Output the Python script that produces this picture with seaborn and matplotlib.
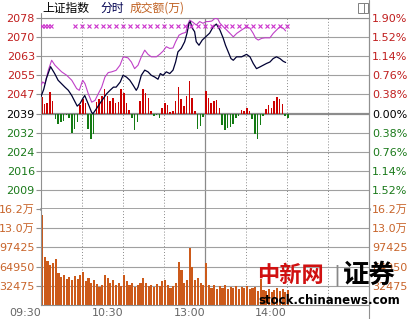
import matplotlib
matplotlib.use("Agg")
import matplotlib.pyplot as plt
import seaborn as sns
from matplotlib.lines import Line2D
from matplotlib.patches import Rectangle

# ---------------- data ----------------
prev_close = 2039.4
price_step = 7.75
price_labels_left = ['2078', '2070', '2063', '2055', '2047', '2039', '2032', '2024', '2016', '2009']
price_labels_right = ['1.90%', '1.52%', '1.14%', '0.76%', '0.38%', '0.00%', '0.38%', '0.76%', '1.14%', '1.52%']
price_steps = [5, 4, 3, 2, 1, 0, -1, -2, -3, -4]
vol_tick_values = [162000, 129900, 97425, 64950, 32475]
vol_tick_labels = ['16.2万', '13.0万', '97425', '64950', '32475']
time_tick_minutes = [0, 60, 120, 180]
time_tick_labels = ['09:30', '10:30', '13:00', '14:00']

index_minutes = [0, 2, 4, 7, 10, 12.5, 15, 17.5, 20, 22.5, 25, 26.5, 28.5, 30.5, 32, 33.5, 35, 37, 38,
                 40.5, 42.5, 45.5, 48, 50.5, 53, 55, 58, 60, 62.5, 65, 67.5, 69.7, 71, 73.4, 75.9, 78.3,
                 80.7, 83.2, 85.6, 87.3, 89.3, 91.7, 94.2, 96.6, 98.5, 100.2, 102.6, 105.1, 106.8, 108.3,
                 109.2, 110.7, 112.4, 113.6, 115.6, 118, 120.5, 123.4, 125.9, 128.3, 130.9, 133.3, 135,
                 137, 139, 140.7, 143.1, 146.8, 150.4, 152.9, 155.3, 157.7, 160.2, 162.6, 165, 167.5,
                 169.9, 172.3, 174.8, 177.2, 179]
index_values = [2046.3, 2049.2, 2053.7, 2058.4, 2055.6, 2052.9, 2051.5, 2050.1, 2048.8, 2046.7, 2044.0,
                2042.4, 2043.4, 2045.4, 2046.7, 2044.7, 2042.7, 2039.9, 2039.3, 2041.3, 2043.0, 2045.4,
                2047.4, 2048.8, 2050.1, 2050.1, 2052.2, 2054.9, 2054.2, 2052.9, 2050.8, 2048.8, 2050.1,
                2054.9, 2057.0, 2056.3, 2054.9, 2054.2, 2053.3, 2055.6, 2054.9, 2056.3, 2055.6, 2057.0,
                2060.3, 2064.4, 2065.8, 2068.5, 2071.9, 2076.0, 2076.7, 2074.0, 2072.6, 2068.5, 2067.1,
                2069.2, 2070.5, 2072.0, 2074.5, 2075.7, 2073.3, 2070.0, 2067.1, 2064.4, 2061.7, 2061.0,
                2062.4, 2062.4, 2063.4, 2062.4, 2059.7, 2057.6, 2058.3, 2059.0, 2059.7, 2060.3, 2061.7,
                2062.4, 2061.7, 2060.6, 2060.1]

lead_minutes = [0, 1.2, 2.9, 5.3, 7.8, 10.2, 12.7, 15.1, 18.8, 22.5, 26.1, 28, 30.5, 32.2, 34.6, 37.1,
                39.5, 41.9, 44.4, 46.8, 49.2, 51.7, 54.9, 57.8, 60.2, 63.6, 66.1, 68.5, 71, 73.4, 75.9,
                78.3, 80.7, 84.4, 86.8, 89.3, 91.7, 94.2, 96.6, 98.5, 101, 103.4, 105.9, 107.5, 108.8,
                111.2, 113.6, 116.1, 118.5, 120.9, 122.4, 124.9, 127.3, 129.3, 131, 133.4, 135.8, 138.3,
                140.7, 143.2, 146.8, 150.5, 152.9, 155.3, 157.1, 159, 161.5, 163.9, 167.5, 169.9, 172.4,
                174.8, 177.3, 179]
lead_values = [2050.8, 2052.2, 2051.5, 2056.9, 2061.0, 2059.0, 2057.6, 2056.3, 2054.9, 2052.9, 2049.5,
               2048.8, 2052.9, 2051.5, 2047.4, 2044.0, 2044.7, 2047.4, 2050.1, 2054.2, 2056.0, 2056.3,
               2056.9, 2059.0, 2062.4, 2062.0, 2060.3, 2057.6, 2059.0, 2062.4, 2065.1, 2063.4, 2062.4,
               2062.4, 2063.4, 2064.7, 2066.5, 2065.8, 2066.0, 2068.5, 2071.2, 2071.9, 2072.3, 2075.6,
               2077.3, 2076.4, 2075.3, 2076.7, 2076.0, 2076.7, 2076.7, 2076.9, 2078.0, 2077.8, 2076.0,
               2074.6, 2073.3, 2071.9, 2070.5, 2071.9, 2073.3, 2074.6, 2074.0, 2071.9, 2069.9, 2069.2,
               2069.9, 2070.1, 2070.1, 2071.9, 2073.3, 2074.6, 2074.0, 2072.9]

bar_minutes = [0, 2, 4, 6, 8, 10, 12, 14, 16, 18, 20, 22, 24, 26, 28, 30, 32, 34, 36, 38, 40, 42, 44,
               46, 48, 50, 52, 54, 56, 58, 60, 62, 64, 66, 68, 70, 72, 74, 76, 78, 80, 82, 84, 86, 88,
               90, 92, 94, 96, 98, 100, 102, 104, 106, 108, 110, 112, 114, 116, 118, 120, 122, 124, 126,
               128, 130, 132, 134, 136, 138, 140, 142, 144, 146, 148, 150, 152, 154, 156, 158, 160, 162,
               164, 166, 168, 170, 172, 174, 176, 178, 180]
strength_values = [6.5, 3.7, 4.1, 8.6, 4.9, -2.4, -4.1, -3.3, -2.9, -0.8, -2.0, -7.8, -6.1, -3.3, 3.3,
                   5.7, 4.1, -6.1, -10.2, -8.2, 4.5, 5.7, 6.9, 9.8, 7.3, 4.9, 6.1, 4.1, 4.5, 9.8, 8.2,
                   4.1, 1.6, -2.0, -6.5, -3.3, 4.9, 9.8, 8.2, 6.1, 1.2, -1.2, -0.8, -2.0, 2.4, 4.1, 3.3,
                   0.8, 1.2, 4.9, 10.6, 5.7, 2.9, 7.3, 13.1, 6.1, 1.2, -6.1, -4.9, -1.6, 9.0, 6.1, 4.1,
                   4.9, 5.3, 2.4, -4.5, -6.5, -5.7, -5.3, -4.1, -2.0, -1.2, 1.6, 1.2, 2.4, 1.2, -2.4,
                   -8.2, -10.2, -4.5, -1.2, 2.0, 3.3, 2.4, 4.9, 6.5, 5.7, 3.7, -1.2, -2.0]
volume_values = [152000, 81000, 74000, 68000, 71000, 77000, 54000, 47000, 50000, 44000, 47000, 42000,
                 49000, 44000, 51000, 56000, 41000, 45000, 37000, 42000, 36000, 30000, 34000, 51000,
                 46000, 37000, 42000, 34000, 37000, 32000, 51000, 40000, 34000, 37000, 30000, 34000,
                 37000, 46000, 37000, 32000, 34000, 30000, 36000, 32000, 40000, 42000, 34000, 29000,
                 32000, 37000, 73000, 59000, 37000, 42000, 96000, 64000, 42000, 46000, 37000, 34000,
                 71000, 34000, 29000, 34000, 27000, 32000, 29000, 34000, 27000, 30000, 29000, 32000,
                 27000, 30000, 29000, 32000, 27000, 29000, 30000, 24000, 44000, 25000, 24000, 27000,
                 22000, 25000, 29000, 24000, 27000, 22000, 25000]
marker_minutes = [1, 3, 5, 7, 25, 30, 35, 40, 45, 50, 55, 60, 65, 70, 75, 80, 85, 90, 95, 100, 105,
                  110, 115, 120, 125, 130, 135, 140, 145, 150, 155, 160, 165, 170, 175, 180]
marker_level = 2074.9

# ---------------- style ----------------
sns.set_style("white")
plt.rcParams['font.family'] = ['DejaVu Sans', 'Noto Sans CJK SC']
plt.rcParams['axes.unicode_minus'] = False

W, H = 411, 319
RED, GREEN, BLACK, ORANGE = '#c01e1e', '#1b7a1b', '#000000', '#c8642a'
GRID = '#a0a0a0'

fig = plt.figure(figsize=(W / 100, H / 100), dpi=100)
fig.patch.set_facecolor('white')


def fx(px):
    return px / W


def fy(py):
    return 1 - py / H


ax_p = fig.add_axes([fx(41), fy(209), 328 / W, 191 / H])
ax_v = fig.add_axes([fx(41), fy(305), 328 / W, 96 / H])

for ax in (ax_p, ax_v):
    ax.set_xlim(0, 240)
    ax.set_facecolor('white')
    ax.set_xticks([])
    for s in ax.spines.values():
        s.set_color('#909090')
        s.set_linewidth(0.8)
    # vertical time grid
    for m in [30, 60, 90, 150, 180, 210]:
        ax.axvline(m, color='#8a8a8a', lw=0.7, ls=(0, (1, 2)), zorder=1)
    ax.axvline(120, color='#8a8a8a', lw=0.9, zorder=1)

# ---- price panel ----
lo, hi = prev_close - 5 * price_step, prev_close + 5 * price_step
ax_p.set_ylim(lo, hi)
levels = [prev_close + k * price_step for k in price_steps]
for k, lv in zip(price_steps, levels):
    if k == 0:
        ax_p.axhline(lv, color='#8c8c8c', lw=1.6, zorder=1)
    else:
        ax_p.axhline(lv, color=GRID, lw=0.8, zorder=1)
ax_p.spines['bottom'].set_linewidth(1.8)
ax_p.spines['bottom'].set_color('#888888')

label_colors = [RED if k > 0 else (BLACK if k == 0 else GREEN) for k in price_steps]

ax_p.set_yticks(levels)
ax_p.set_yticklabels(price_labels_left)
ax_p.tick_params(axis='y', length=3.5, width=0.8, color='#909090', pad=1, labelsize=8)
for t, c in zip(ax_p.get_yticklabels(), label_colors):
    t.set_color(c)

axr = ax_p.twinx()
axr.set_ylim(lo, hi)
axr.set_yticks(levels)
axr.set_yticklabels(price_labels_right)
axr.tick_params(axis='y', length=0, pad=2, labelsize=8)
for t, c in zip(axr.get_yticklabels(), label_colors):
    t.set_color(c)
for s in axr.spines.values():
    s.set_visible(False)

# strength bars
pos_x = [m for m, v in zip(bar_minutes, strength_values) if v > 0]
pos_v = [v for v in strength_values if v > 0]
neg_x = [m for m, v in zip(bar_minutes, strength_values) if v < 0]
neg_v = [v for v in strength_values if v < 0]
ax_p.bar(pos_x, pos_v, bottom=prev_close, width=1.1, color='#cc0000', linewidth=0, zorder=2, align='edge')
ax_p.bar(neg_x, neg_v, bottom=prev_close, width=1.1, color='#137a13', linewidth=0, zorder=2, align='edge')

# lines
sns.lineplot(x=lead_minutes, y=lead_values, ax=ax_p, color='#c040c8', linewidth=0.8,
             estimator=None, sort=False, zorder=3)
sns.lineplot(x=index_minutes, y=index_values, ax=ax_p, color='#000033', linewidth=0.9,
             estimator=None, sort=False, zorder=4)
ax_p.plot(marker_minutes, [marker_level] * len(marker_minutes), ls='none', marker='x',
          ms=3.2, mew=0.8, color='#cc33cc', zorder=4)
ax_p.set_xlim(0, 240)
ax_p.set_ylim(lo, hi)
ax_p.set_xlabel('')
ax_p.set_ylabel('')

# ---- volume panel ----
ax_v.set_ylim(0, vol_tick_values[0])
for v in vol_tick_values[1:]:
    ax_v.axhline(v, color=GRID, lw=0.8, zorder=1)
ax_v.spines['top'].set_visible(False)
ax_v.bar(bar_minutes, volume_values, width=1.55, color='#cc5a1a', linewidth=0, zorder=2, align='edge')
ax_v.set_yticks(vol_tick_values)
ax_v.set_yticklabels(vol_tick_labels)
ax_v.tick_params(axis='y', length=3.5, width=0.8, color='#909090', pad=1, labelsize=8, labelcolor=ORANGE)
ax_v.set_xticks(time_tick_minutes)
ax_v.set_xticklabels(time_tick_labels, ha='right')
ax_v.tick_params(axis='x', length=0, pad=2.5, labelsize=8, labelcolor='#666666')

axvr = ax_v.twinx()
axvr.set_ylim(0, vol_tick_values[0])
axvr.set_yticks(vol_tick_values)
axvr.set_yticklabels(vol_tick_labels)
axvr.tick_params(axis='y', length=0, pad=2, labelsize=8, labelcolor=ORANGE)
for s in axvr.spines.values():
    s.set_visible(False)

# frame extensions
fig.add_artist(Line2D([fx(369), fx(369)], [fy(0), fy(319)], color='#909090', lw=0.8))
fig.add_artist(Line2D([fx(41), fx(41)], [fy(13), fy(18)], color='#909090', lw=0.8))
fig.add_artist(Rectangle((fx(358), fy(13)), 10 / W, 10 / H, fill=False, edgecolor='#808080', lw=0.7))
fig.add_artist(Line2D([fx(364), fx(364)], [fy(13), fy(3)], color='#808080', lw=0.7))

# title
cjk = ['Noto Sans CJK SC', 'DejaVu Sans']
fig.text(fx(42), fy(8), '上证指数', family=cjk, fontsize=8.5, color='#000000', va='center', ha='left')
fig.text(fx(100), fy(8), '分时', family=cjk, fontsize=8.5, color='#000050', va='center', ha='left')
fig.text(fx(130), fy(8), '成交额(万)', family=cjk, fontsize=8.5, color='#c06020', va='center', ha='left')

# watermark
fig.text(fx(257), fy(275), '中新网', family=cjk, fontsize=16, fontweight='bold', color='#d01010',
         va='center', ha='left', zorder=10)
fig.text(fx(333), fy(275), '|', family=['DejaVu Sans'], fontsize=15, color='#888888',
         va='center', ha='left', zorder=10)
fig.text(fx(343), fy(275), '证券', family=cjk, fontsize=19, fontweight='bold', color='#000000',
         va='center', ha='left', zorder=10)
fig.text(fx(258), fy(300), 'stock.chinanews.com', family=['DejaVu Sans'], fontsize=8.5,
         fontweight='bold', color='#000000', va='center', ha='left', zorder=10)

fig.savefig('out.png', dpi=100, facecolor='white')
